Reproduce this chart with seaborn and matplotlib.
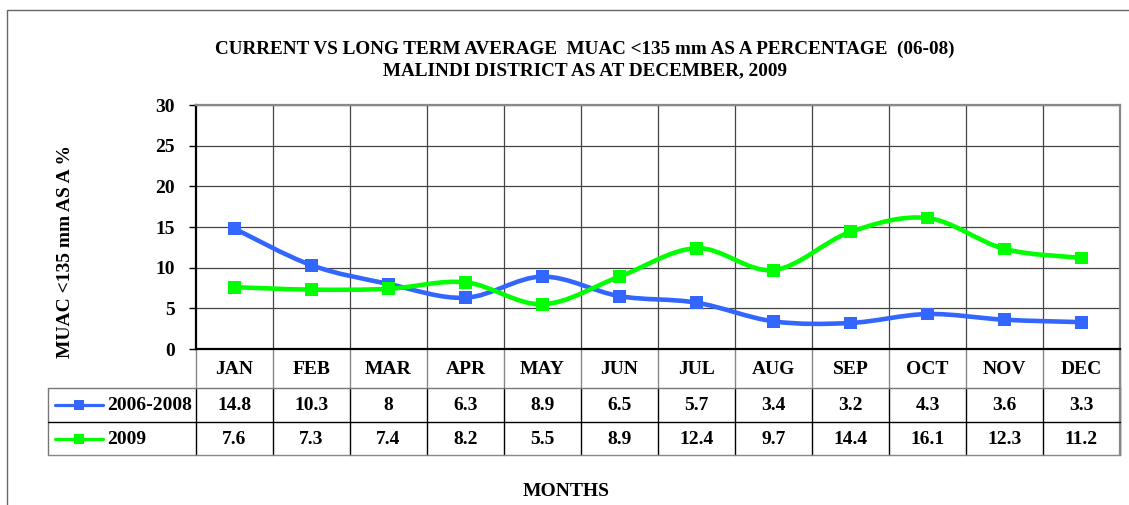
import numpy as np
import pandas as pd
import matplotlib
matplotlib.use('Agg')
import matplotlib.pyplot as plt
from matplotlib.path import Path
from matplotlib.patches import PathPatch
from matplotlib.lines import Line2D
import seaborn as sns

months = ['JAN', 'FEB', 'MAR', 'APR', 'MAY', 'JUN', 'JUL', 'AUG', 'SEP', 'OCT', 'NOV', 'DEC']
avg_2006_2008 = [14.8, 10.3, 8, 6.3, 8.9, 6.5, 5.7, 3.4, 3.2, 4.3, 3.6, 3.3]
cur_2009 = [7.6, 7.3, 7.4, 8.2, 5.5, 8.9, 12.4, 9.7, 14.4, 16.1, 12.3, 11.2]
series_names = ['2006-2008', '2009']
y_ticks = [0, 5, 10, 15, 20, 25, 30]

title = ('CURRENT VS LONG TERM AVERAGE  MUAC <135 mm AS A PERCENTAGE  (06-08)\n'
         'MALINDI DISTRICT AS AT DECEMBER, 2009')
y_label = 'MUAC <135 mm AS A %'
x_label = 'MONTHS'

BLUE = '#3366FF'
GREEN = '#00FF00'
colors = {series_names[0]: BLUE, series_names[1]: GREEN}

W, H = 1129, 505
FS = 14

sns.set_style('white')
plt.rcParams['font.family'] = ['Liberation Serif', 'DejaVu Serif']
plt.rcParams['font.weight'] = 'bold'
plt.rcParams['text.color'] = 'black'
plt.rcParams['ytick.color'] = 'black'
plt.rcParams['ytick.labelcolor'] = 'black'


def smooth_path(xs, ys):
    """Excel-like smoothed line: cubic Bezier segments through every point"""
    n = len(xs)
    verts = [(xs[0], ys[0])]
    codes = [Path.MOVETO]
    for i in range(n - 1):
        a = max(i - 1, 0)
        d = min(i + 2, n - 1)
        c1 = (xs[i] + (xs[i + 1] - xs[a]) / 6, ys[i] + (ys[i + 1] - ys[a]) / 6)
        c2 = (xs[i + 1] - (xs[d] - xs[i]) / 6, ys[i + 1] - (ys[d] - ys[i]) / 6)
        verts += [c1, c2, (xs[i + 1], ys[i + 1])]
        codes += [Path.CURVE4] * 3
    return Path(verts, codes)


def rect(l, t, r, b):
    return [l / W, 1 - b / H, (r - l) / W, (b - t) / H]


df = pd.DataFrame({
    'pos': list(range(len(months))) * 2,
    'month': months * 2,
    'value': avg_2006_2008 + cur_2009,
    'series': [series_names[0]] * len(months) + [series_names[1]] * len(months),
})

fig = plt.figure(figsize=(W / 100, H / 100), dpi=100)

# background layer in pixel coordinates for frame and data table
bg = fig.add_axes([0, 0, 1, 1])
bg.set_xlim(0, W)
bg.set_ylim(H, 0)
bg.axis('off')

# outer chart border
bg.plot([7, 7, W], [H, 10, 10], color='#666666', lw=1.0)

# plot area
L, T, R, B = 196, 105, 1120, 349
ax = fig.add_axes(rect(L, T, R, B))
ax.set_zorder(2)

for name in series_names:
    sub = df[df['series'] == name]
    path = smooth_path(sub['pos'].to_numpy(float), sub['value'].to_numpy(float))
    ax.add_patch(PathPatch(path, facecolor='none', edgecolor=colors[name],
                           lw=3.3, zorder=3, capstyle='round'))

sns.scatterplot(data=df, x='pos', y='value', hue='series', palette=colors,
                marker='s', s=85, linewidth=0, legend=False, ax=ax, zorder=4)

ax.set_xlim(-0.5, len(months) - 0.5)
ax.set_ylim(0, 30)
ax.set_yticks(y_ticks)
ax.set_yticklabels([str(v) for v in y_ticks], fontsize=FS, fontweight='bold')
ax.set_xticks(np.arange(0.5, len(months) - 0.5, 1))
ax.set_xticklabels([])
ax.tick_params(axis='y', direction='out', length=5, width=1, pad=10, left=True)
ax.tick_params(axis='x', length=0)
ax.grid(True, color='#444444', lw=0.9)
ax.set_axisbelow(True)
ax.set_xlabel('')
ax.set_ylabel('')
for s in ['left', 'bottom']:
    ax.spines[s].set_color('black')
    ax.spines[s].set_linewidth(1.6)
for s in ['top', 'right']:
    ax.spines[s].set_color('#888888')
    ax.spines[s].set_linewidth(1.6)

# data table under the plot
col_w = (R - L) / len(months)
rows_y = [B, 388, 422, 455]
row_vals = [avg_2006_2008, cur_2009]
leg_l = 48

for k in range(len(months) + 1):
    x = L + k * col_w
    bg.plot([x, x], [rows_y[0], rows_y[1]], color='#888888', lw=1.0)
    bg.plot([x, x], [rows_y[1], rows_y[3]], color='black', lw=1.0)
bg.plot([leg_l, leg_l], [rows_y[1], rows_y[3]], color='#777777', lw=1.0)
bg.plot([R, R], [rows_y[0], rows_y[3]], color='#888888', lw=1.6)
for y, c in zip(rows_y[1:], ['#777777', 'black', '#888888']):
    bg.plot([leg_l, R], [y, y], color=c, lw=1.0)

for k, m in enumerate(months):
    xc = L + (k + 0.5) * col_w
    bg.text(xc, (rows_y[0] + rows_y[1]) / 2 + 1, m, ha='center', va='center',
            fontsize=FS, fontweight='bold')
    for r, vals in enumerate(row_vals):
        bg.text(xc, (rows_y[r + 1] + rows_y[r + 2]) / 2 + 1, f'{vals[k]:g}',
                ha='center', va='center', fontsize=FS, fontweight='bold')

for r, name in enumerate(series_names):
    yc = (rows_y[r + 1] + rows_y[r + 2]) / 2
    bg.add_line(Line2D([55, 103], [yc, yc], color=colors[name], lw=2.3))
    bg.add_line(Line2D([79], [yc], color=colors[name], marker='s', markersize=7.5,
                       markeredgewidth=0))
    bg.text(107, yc + 1, name, ha='left', va='center', fontsize=FS, fontweight='bold')

# titles and axis labels
bg.text(585, 60, title, ha='center', va='center', fontsize=13.8, fontweight='bold',
        linespacing=1.32)
bg.text(66, 251, y_label, ha='center', va='center', rotation=90,
        fontsize=FS, fontweight='bold')
bg.text(566, 492, x_label, ha='center', va='center', fontsize=FS, fontweight='bold')

fig.savefig('out.png', dpi=100)
